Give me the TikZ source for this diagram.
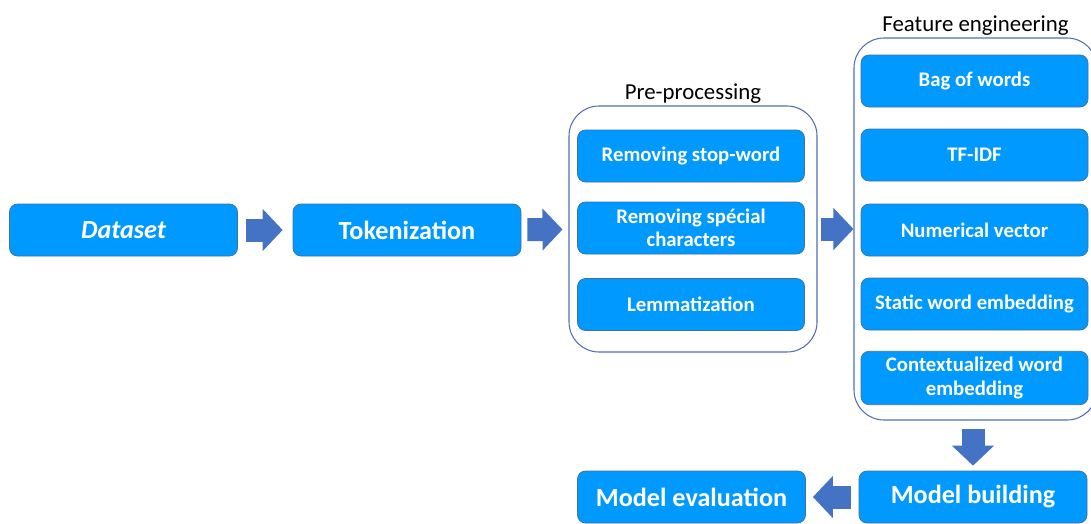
\documentclass[tikz,border=0pt]{standalone}
\usepackage{fontspec}
\setmainfont{Carlito}
\usetikzlibrary{positioning,arrows.meta}
\definecolor{boxblue}{RGB}{0,153,255}
\definecolor{boxline}{RGB}{65,113,156}
\definecolor{arrowblue}{RGB}{68,114,196}
\definecolor{frameline}{RGB}{80,110,180}
\tikzset{
    stagebox/.style={draw=boxline, fill=boxblue, text=white, rounded corners=1.6mm,
      minimum width=4.56cm, minimum height=1.04cm, font=\bfseries\fontsize{14.9}{17}\selectfont},
    subbox/.style={stagebox, minimum width=4.54cm, align=center,
      font=\bfseries\fontsize{11.8}{13.4}\selectfont},
    framebox/.style={draw=frameline, rounded corners=6mm, line width=0.6pt},
    blockarrow/.style={draw=arrowblue, line width=4.6mm,
      -{Triangle[length=4mm,width=8.2mm]}},
  }
\begin{document}
\begin{tikzpicture}[x=0.2mm,y=-0.2mm]
    \useasboundingbox (0,0) rectangle (1091,523);
    %frames
    \node[framebox, minimum width=4.96cm, minimum height=4.92cm,
          label={[font=\fontsize{13}{15}\selectfont, inner sep=1pt]above:Pre-processing}] (prep) at (693,229) {};
    \node[framebox, minimum width=4.86cm, minimum height=7.64cm,
          label={[font=\fontsize{13}{15}\selectfont, inner sep=1pt]above:Feature engineering}] (feat) at (975.5,229) {};
    %main line
    \node[stagebox] (data) at (123.5,230) {\itshape Dataset};
    \node[stagebox] (token) at (407,230) {Tokenization};
    \node[stagebox] (build) at (973,497) {Model building};
    \node[stagebox] (eval) at (691.5,497) {Model evaluation};
    %pre-processing
    \node[subbox] (stop) at (691,156) {Removing stop-word};
    \node[subbox] (spec) at (691,228) {Removing spécial\\characters};
    \node[subbox] (lemma) at (691,304.5) {Lemmatization};
    %features
    \node[subbox] (bow) at (974.5,81) {Bag of words};
    \node[subbox] (tfidf) at (974.5,155) {TF-IDF};
    \node[subbox] (numvec) at (974.5,230) {Numerical vector};
    \node[subbox] (static) at (974.5,304) {Static word embedding};
    \node[subbox] (context) at (974.5,378) {Contextualized word\\embedding};
    %arrows
    \draw[blockarrow, shorten <=1.6mm, shorten >=2mm] (data) -- (token);
    \draw[blockarrow, shorten <=1.2mm, shorten >=1.2mm] (token) -- (prep);
    \draw[blockarrow, shorten <=0.6mm, shorten >=0mm] (prep) -- (feat.west |- prep);
    \draw[blockarrow, shorten <=1.6mm, shorten >=1mm] (feat.south -| build) -- (build);
    \draw[blockarrow, shorten <=1.6mm, shorten >=1.4mm] (build) -- (eval);
\end{tikzpicture}
\end{document}
